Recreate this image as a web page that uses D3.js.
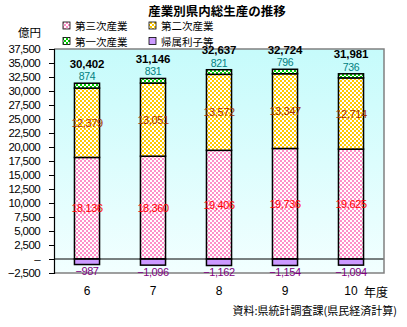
<!DOCTYPE html>
<html>
<head>
<meta charset="utf-8">
<script src="https://cdn.jsdelivr.net/npm/d3@7/dist/d3.min.js"></script>
<style>
  html, body { margin: 0; padding: 0; background: #fff; }
  svg { display: block; }
  text { font-family: "Liberation Sans", Arial, "Noto Sans CJK JP", sans-serif; }
  .jp { font-family: "Noto Sans CJK JP", sans-serif; }
</style>
</head>
<body>
<svg id="chart" width="407" height="327"></svg>
<script>
// 産業別県内総生産 (億円)
const years = ["6", "7", "8", "9", "10"];
const tertiary = [18136, 18360, 19406, 19736, 19625];
const secondary = [12379, 13051, 13572, 13347, 12714];
const primary = [874, 831, 821, 796, 736];
const imputedInterest = [-987, -1096, -1162, -1154, -1094];
const totals = [30402, 31146, 32637, 32724, 31981];
const yTicks = [-2500, 0, 2500, 5000, 7500, 10000, 12500, 15000, 17500, 20000, 22500, 25000, 27500, 30000, 32500, 35000, 37500];

const seriesInfo = [
  { key: "tertiary", name: "第三次産業", pat: "patPink", label: "#ff0000" },
  { key: "secondary", name: "第二次産業", pat: "patGold", label: "#a33300" },
  { key: "primary", name: "第一次産業", pat: "patGreen", label: "#008080" },
  { key: "interest", name: "帰属利子等", pat: "solidLav", label: "#800080" }
];

const rows = years.map((y, i) => ({
  year: y,
  tertiary: tertiary[i],
  secondary: secondary[i],
  primary: primary[i],
  interest: imputedInterest[i],
  total: totals[i]
}));

const svg = d3.select("#chart");
const plot = { left: 54, right: 384, top: 49, bottom: 273 };

const x = d3.scaleBand().domain(years).range([plot.left, plot.right])
  .paddingInner(0.62).paddingOuter(0.31);
const y = d3.scaleLinear().domain([-2500, 37500]).range([plot.bottom, plot.top]);

// fill patterns
const defs = svg.append("defs");
function checker(id, color) {
  const p = defs.append("pattern").attr("id", id).attr("patternUnits", "userSpaceOnUse")
    .attr("width", 4).attr("height", 4);
  p.append("rect").attr("width", 4).attr("height", 4).attr("fill", "#ffffff");
  p.append("rect").attr("width", 2).attr("height", 2).attr("fill", color);
  p.append("rect").attr("x", 2).attr("y", 2).attr("width", 2).attr("height", 2).attr("fill", color);
}
checker("patPink", "#ff8fc8");
checker("patGold", "#ffc800");
checker("patGreen", "#00cc00");
const lav = defs.append("pattern").attr("id", "solidLav").attr("patternUnits", "userSpaceOnUse")
  .attr("width", 4).attr("height", 4);
lav.append("rect").attr("width", 4).attr("height", 4).attr("fill", "#cc99ff");

const grad = defs.append("linearGradient").attr("id", "bgGrad")
  .attr("x1", 0).attr("y1", 0).attr("x2", 0).attr("y2", 1);
grad.append("stop").attr("offset", "0%").attr("stop-color", "#c6fbfb");
grad.append("stop").attr("offset", "100%").attr("stop-color", "#f2ffff");

// plot background
svg.append("rect")
  .attr("x", plot.left).attr("y", plot.top)
  .attr("width", plot.right - plot.left).attr("height", plot.bottom - plot.top)
  .attr("fill", "url(#bgGrad)");

// stacked bars
const stack = d3.stack().keys(["tertiary", "secondary", "primary", "interest"])
  .offset(d3.stackOffsetDiverging);
const stacked = stack(rows);

const bw = x.bandwidth();
stacked.forEach((layer, li) => {
  const info = seriesInfo[li];
  svg.append("g").selectAll("rect").data(layer).join("rect")
    .attr("x", d => x(d.data.year))
    .attr("y", d => y(Math.max(d[0], d[1])))
    .attr("width", bw)
    .attr("height", d => Math.abs(y(d[0]) - y(d[1])))
    .attr("fill", `url(#${info.pat})`)
    .attr("stroke", "#000")
    .attr("stroke-width", 1.5);
});

// zero line
svg.append("line")
  .attr("x1", plot.left).attr("x2", plot.right)
  .attr("y1", y(0)).attr("y2", y(0))
  .attr("stroke", "#000").attr("stroke-width", 1);

// plot border (right / bottom / top in gray)
svg.append("path")
  .attr("d", `M${plot.left},${plot.top}H${plot.right}V${plot.bottom}H${plot.left}`)
  .attr("fill", "none").attr("stroke", "#808080").attr("stroke-width", 1.5);

// y axis
const yAxis = d3.axisLeft(y).tickValues(yTicks).tickSize(5).tickPadding(9)
  .tickFormat(d => d === 0 ? "\u2013" : d3.format(",")(d).replace("-", "\u2212"));
const ya = svg.append("g").attr("transform", `translate(${plot.left},0)`).call(yAxis);
ya.select(".domain").attr("stroke", "#000").attr("stroke-width", 1.2);
ya.selectAll(".tick line").attr("stroke", "#000");
ya.selectAll(".tick text").attr("font-size", 11.5).attr("fill", "#000")
  .attr("letter-spacing", -0.6).attr("font-family", "Liberation Sans, Arial, sans-serif");

// category labels
svg.append("g").selectAll("text").data(years).join("text")
  .attr("x", d => x(d) + bw / 2).attr("y", 291)
  .attr("text-anchor", "middle").attr("dominant-baseline", "central")
  .attr("font-size", 12).text(d => d);

svg.append("text").attr("class", "jp").attr("x", 364).attr("y", 291)
  .attr("dominant-baseline", "central").attr("font-size", 12).text("年度");

// segment value labels
const fmt = d3.format(",");
const labelG = svg.append("g").attr("font-size", 11).attr("letter-spacing", -0.4)
  .attr("text-anchor", "middle").attr("dominant-baseline", "central");

// 第三次・第二次: centered in their segment
[0, 1].forEach(li => {
  labelG.append("g").selectAll("text").data(stacked[li]).join("text")
    .attr("x", d => x(d.data.year) + bw / 2)
    .attr("y", d => (y(d[0]) + y(d[1])) / 2)
    .attr("fill", seriesInfo[li].label)
    .text(d => fmt(d[1] - d[0]));
});
// 第一次: above the bar
labelG.append("g").selectAll("text").data(stacked[2]).join("text")
  .attr("x", d => x(d.data.year) + bw / 2)
  .attr("y", d => y(d[1]) - 7)
  .attr("font-size", 10.5)
  .attr("fill", seriesInfo[2].label)
  .text(d => fmt(d[1] - d[0]));
// 帰属利子等: below the bar
labelG.append("g").selectAll("text").data(stacked[3]).join("text")
  .attr("x", d => x(d.data.year) + bw / 2)
  .attr("y", d => y(d[0]) + 6.5)
  .attr("fill", seriesInfo[3].label)
  .text(d => fmt(d[0] - d[1]).replace("-", "\u2212"));

// totals, bold, above each bar
svg.append("g").selectAll("text").data(stacked[2]).join("text")
  .attr("x", d => x(d.data.year) + bw / 2)
  .attr("y", d => Math.max(y(d[1]) - 19.5, plot.top))
  .attr("text-anchor", "middle").attr("dominant-baseline", "central")
  .attr("font-size", 11.5).attr("font-weight", "bold").attr("letter-spacing", -0.1)
  .text(d => fmt(d.data.total));

// title
svg.append("text").attr("class", "jp").attr("x", 217).attr("y", 10)
  .attr("text-anchor", "middle").attr("dominant-baseline", "central")
  .attr("font-size", 12.5).attr("font-weight", "bold").text("産業別県内総生産の推移");

// unit
svg.append("text").attr("class", "jp").attr("x", 18).attr("y", 32)
  .attr("dominant-baseline", "central").attr("font-size", 11.5).text("億円");

// legend
const legendPos = [[63, 25.5], [149, 25.5], [63, 41], [149, 41]];
const lg = svg.append("g");
seriesInfo.forEach((s, i) => {
  const [lx, ly] = legendPos[i];
  lg.append("rect").attr("x", lx).attr("y", ly - 3.5).attr("width", 7).attr("height", 7)
    .attr("fill", `url(#${s.pat})`).attr("stroke", "#000").attr("stroke-width", 0.8);
  lg.append("text").attr("class", "jp").attr("x", lx + 12).attr("y", ly)
    .attr("dominant-baseline", "central").attr("font-size", 10.5).text(s.name);
});

// source
svg.append("text").attr("class", "jp").attr("x", 397).attr("y", 310)
  .attr("text-anchor", "end").attr("dominant-baseline", "central")
  .attr("font-size", 11).text("資料:県統計調査課(県民経済計算)");
</script>
</body>
</html>
